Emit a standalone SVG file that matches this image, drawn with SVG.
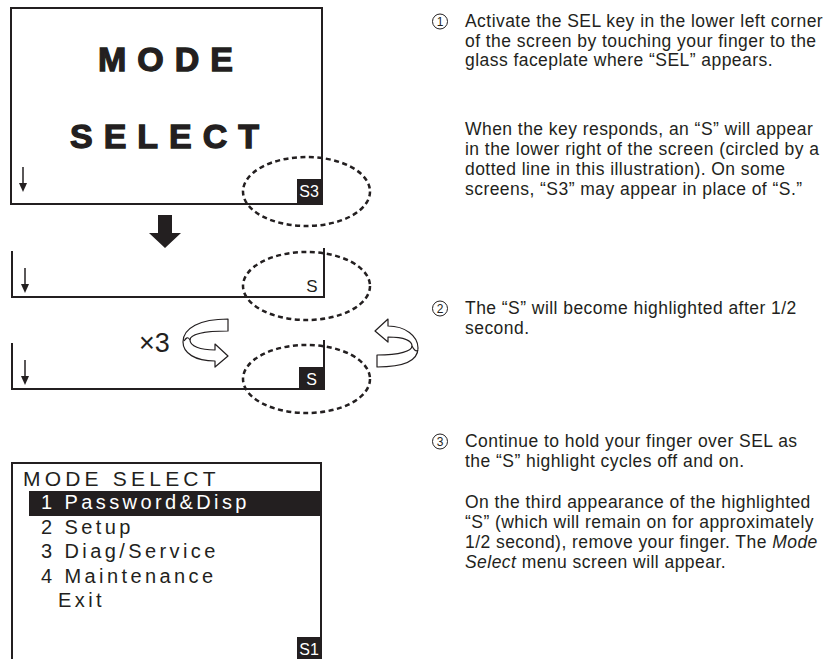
<svg xmlns="http://www.w3.org/2000/svg" width="825" height="659" viewBox="0 0 825 659">
<defs>
<style>
.scr{fill:none;stroke:#231f20;stroke-width:2}
.dash{fill:none;stroke:#231f20;stroke-width:2.5;stroke-dasharray:5 3.5}
.big{font-family:"Liberation Sans",Arial,sans-serif;font-weight:bold;font-size:34px;fill:#231f20;stroke:#231f20;stroke-width:1.3;letter-spacing:11px}
.menu{font-family:"Liberation Sans",Arial,sans-serif;font-size:20px;fill:#231f20;letter-spacing:3.4px}
.body{font-family:"Liberation Sans",Arial,sans-serif;font-size:17.5px;fill:#231f20;letter-spacing:0.45px}
.num{font-family:"Liberation Sans",Arial,sans-serif;font-size:12px;fill:#231f20;text-anchor:middle}
.circ{fill:none;stroke:#231f20;stroke-width:1}
.tag{font-family:"Liberation Sans",Arial,sans-serif;font-size:16px;fill:#fff;text-anchor:middle}
.rib{fill:#fff;stroke:#231f20;stroke-width:1.2;stroke-linejoin:round}
</style>
<g id="sarrow">
<line x1="0" y1="0" x2="0" y2="17" stroke="#231f20" stroke-width="1.5"/>
<polygon points="-4,16 4,16 0,25" fill="#231f20"/>
</g>
</defs>
<rect width="825" height="659" fill="#fff"/>

<g id="screen1">
<rect class="scr" x="11" y="8" width="311" height="196"/>
<text class="big" x="98" y="71">MODE</text>
<text class="big" x="70" y="148">SELECT</text>
<use href="#sarrow" x="23" y="167"/>
<rect x="297" y="179" width="24" height="24" fill="#231f20"/>
<text class="tag" x="309" y="197">S3</text>
<ellipse class="dash" cx="306.5" cy="191.5" rx="63.5" ry="34.5"/>
</g>

<g id="connectors">
<polygon points="158,215 172,215 172,233 181,233 165,248 149,233 158,233" fill="#231f20"/>
<path class="rib" d="M228,319 L228,331 C205,331 190,334 190,340 C190,346 200,350 215,350 L215,344 L228,356 L215,367 L215,361 C195,361 183,353 183,342 C183,328 200,319 228,319 Z"/>
<path class="rib" fill="none" d="M190,340 C188,336 186,338 184,341"/>
<path class="rib" d="M388,319 L375,331 L388,342 L388,337 C405,337 412,341 412,346 C412,351 400,355 377,355 L377,367 C405,367 418,360 418,348 C418,336 405,326 388,326 Z"/>
<path class="rib" fill="none" d="M412,346 C414,350 416,352 418,350"/>
<text x="139" y="352" font-family="'Liberation Sans',Arial,sans-serif" font-size="27" fill="#231f20">×3</text>
</g>

<g id="screen2">
<path class="scr" d="M12,251 V297 H324 V248"/>
<use href="#sarrow" x="25" y="268"/>
<text x="312" y="292" font-family="'Liberation Sans',Arial,sans-serif" font-size="17" fill="#231f20" text-anchor="middle">S</text>
<ellipse class="dash" cx="306.5" cy="286" rx="63.5" ry="34"/>
</g>

<g id="screen3">
<path class="scr" d="M12,343 V389 H324 V340"/>
<use href="#sarrow" x="25" y="360"/>
<rect x="299" y="367" width="25" height="22" fill="#231f20"/>
<text class="tag" x="311.5" y="385" font-size="17">S</text>
<ellipse class="dash" cx="306.5" cy="379" rx="63.5" ry="34"/>
</g>

<g id="screen4">
<path class="scr" d="M12,659 V463 H321 V659"/>
<text class="menu" x="23" y="486" style="font-size:21px;letter-spacing:4.2px">MODE SELECT</text>
<rect x="29" y="491" width="292" height="25" fill="#231f20"/>
<text class="menu" x="41" y="509" style="fill:#fff">1 Password&amp;Disp</text>
<text class="menu" x="41" y="534">2 Setup</text>
<text class="menu" x="41" y="558">3 Diag/Service</text>
<text class="menu" x="41" y="583">4 Maintenance</text>
<text class="menu" x="58" y="607">Exit</text>
<rect x="297" y="637" width="24" height="22" fill="#231f20"/>
<text class="tag" x="309" y="655">S1</text>
</g>

<g id="step1">
<circle class="circ" cx="440" cy="21.5" r="7.5"/>
<text class="num" x="440" y="26">1</text>
<text class="body" x="465" y="27">Activate the SEL key in the lower left corner</text>
<text class="body" x="465" y="46.5">of the screen by touching your finger to the</text>
<text class="body" x="465" y="66">glass faceplate where “SEL” appears.</text>
<text class="body" x="465" y="135">When the key responds, an “S” will appear</text>
<text class="body" x="465" y="155">in the lower right of the screen (circled by a</text>
<text class="body" x="465" y="175">dotted line in this illustration). On some</text>
<text class="body" x="465" y="195">screens, “S3” may appear in place of “S.”</text>
</g>

<g id="step2">
<circle class="circ" cx="440" cy="308.5" r="7.5"/>
<text class="num" x="440" y="313">2</text>
<text class="body" x="465" y="314">The “S” will become highlighted after 1/2</text>
<text class="body" x="465" y="334">second.</text>
</g>

<g id="step3">
<circle class="circ" cx="440" cy="441.5" r="7.5"/>
<text class="num" x="440" y="446">3</text>
<text class="body" x="465" y="447">Continue to hold your finger over SEL as</text>
<text class="body" x="465" y="467">the “S” highlight cycles off and on.</text>
<text class="body" x="465" y="508">On the third appearance of the highlighted</text>
<text class="body" x="465" y="528">“S” (which will remain on for approximately</text>
<text class="body" x="465" y="548">1/2 second), remove your finger. The <tspan font-style="italic">Mode</tspan></text>
<text class="body" x="465" y="568"><tspan font-style="italic">Select</tspan> menu screen will appear.</text>
</g>
</svg>
